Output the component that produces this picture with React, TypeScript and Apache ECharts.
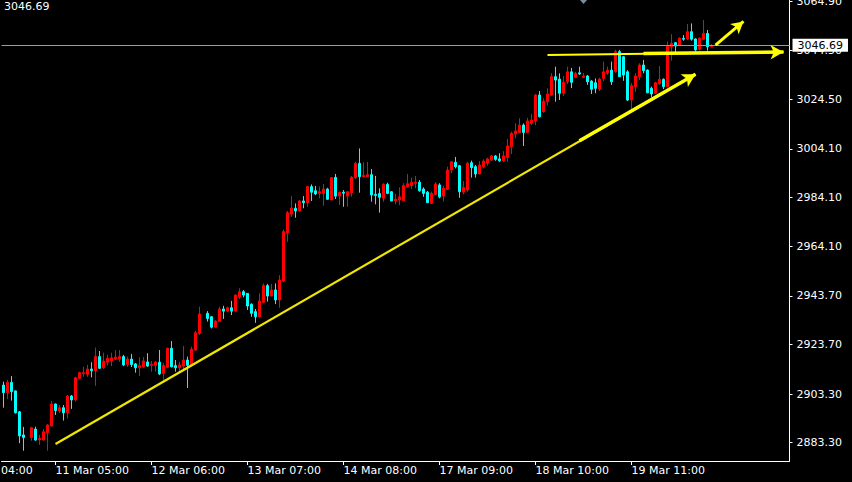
import React, { useEffect, useRef } from "react";
import * as echarts from "echarts";

const FONT = '"DejaVu Sans", Tahoma, sans-serif';

// Hourly XAUUSD candles: [open, close, low, high]; "-" marks an empty slot
const candles: (number | string)[][] = [
  [2907.0, 2903.9, 2897.7, 2908.4], [2903.9, 2908.1, 2901.2, 2909.1], [2908.1, 2904.3, 2900.6, 2910.7],
  [2904.6, 2895.6, 2895.3, 2904.8], [2896.0, 2886.1, 2883.1, 2896.3], [2886.5, 2885.4, 2880.0, 2889.8],
  ["-", "-", "-", "-"], [2885.4, 2889.5, 2884.1, 2889.8], [2888.9, 2884.4, 2884.1, 2889.9],
  [2884.5, 2885.1, 2882.4, 2886.5], [2884.4, 2887.8, 2884.1, 2888.9], [2887.4, 2890.6, 2880.0, 2890.9],
  [2890.2, 2899.2, 2889.9, 2900.5], [2899.2, 2896.5, 2894.7, 2899.4], [2896.3, 2897.7, 2895.6, 2898.8],
  [2897.7, 2895.6, 2892.4, 2898.8], [2895.6, 2902.5, 2893.3, 2902.9], [2902.5, 2900.9, 2897.2, 2902.9],
  [2900.9, 2910.0, 2900.2, 2910.4], [2909.8, 2912.1, 2909.4, 2912.5], [2911.7, 2912.1, 2910.4, 2914.5],
  [2911.4, 2913.6, 2910.4, 2915.3], [2913.6, 2912.9, 2910.2, 2916.4], [2912.8, 2918.7, 2906.7, 2922.4],
  [2918.7, 2913.9, 2913.6, 2921.0], [2914.1, 2916.9, 2913.6, 2920.3], [2916.4, 2918.0, 2915.0, 2919.4],
  [2916.9, 2918.2, 2914.8, 2920.3], [2917.7, 2918.5, 2917.3, 2921.4], [2917.7, 2918.7, 2916.5, 2921.4],
  [2918.7, 2915.3, 2914.8, 2919.4], [2915.5, 2917.7, 2914.5, 2918.7], [2917.7, 2915.5, 2914.4, 2919.8],
  [2915.7, 2914.1, 2912.1, 2916.1], [2914.1, 2915.0, 2910.7, 2918.4], [2914.5, 2916.9, 2914.1, 2918.5],
  [2916.5, 2914.8, 2914.5, 2920.1], [2915.1, 2915.5, 2912.5, 2916.9], [2915.1, 2916.4, 2912.5, 2916.9],
  [2916.4, 2911.6, 2911.1, 2921.4], [2911.8, 2915.0, 2909.1, 2916.0], [2914.3, 2922.1, 2913.9, 2922.4],
  [2922.1, 2914.5, 2914.3, 2925.1], [2915.0, 2914.1, 2912.5, 2917.3], [2914.1, 2915.3, 2912.1, 2916.6],
  [2914.8, 2917.3, 2913.2, 2923.1], [2917.3, 2915.1, 2905.8, 2918.7], [2915.3, 2921.8, 2914.5, 2922.8],
  [2921.4, 2928.5, 2921.0, 2929.3], [2928.3, 2936.2, 2927.6, 2939.2], ["-", "-", "-", "-"],
  [2936.5, 2934.4, 2933.1, 2937.4], [2935.1, 2930.8, 2930.3, 2935.4], [2930.8, 2933.3, 2930.6, 2933.7],
  [2933.1, 2938.3, 2933.0, 2939.2], [2938.3, 2937.4, 2934.2, 2939.6], [2937.4, 2938.8, 2937.2, 2939.2],
  [2938.8, 2937.4, 2935.8, 2941.6], [2937.4, 2944.0, 2937.2, 2944.3], [2943.3, 2945.4, 2942.4, 2946.8],
  [2945.4, 2944.0, 2943.1, 2946.1], [2944.7, 2939.5, 2937.9, 2944.8], [2940.2, 2936.5, 2935.1, 2940.6],
  [2937.2, 2935.1, 2932.6, 2938.3], [2935.1, 2941.6, 2934.7, 2944.7], [2941.0, 2947.9, 2940.6, 2948.8],
  [2947.9, 2943.6, 2941.3, 2948.6], [2943.6, 2946.1, 2943.5, 2948.6], [2946.1, 2942.0, 2940.3, 2948.8],
  [2942.0, 2950.2, 2938.8, 2952.2], [2949.8, 2970.1, 2949.4, 2971.0], [2969.6, 2977.9, 2965.9, 2978.6],
  [2977.3, 2979.7, 2976.2, 2984.7], [2979.7, 2978.6, 2975.8, 2981.7], [2978.6, 2982.7, 2978.3, 2983.1],
  [2982.7, 2982.0, 2979.7, 2984.7], [2982.0, 2988.6, 2980.3, 2988.9], [2988.6, 2986.3, 2982.7, 2989.5],
  [2986.9, 2985.6, 2985.1, 2988.9], [2985.8, 2986.5, 2983.8, 2988.6], [2985.8, 2987.6, 2980.7, 2989.7],
  [2987.6, 2983.4, 2983.1, 2988.1], [2983.1, 2992.3, 2983.0, 2992.5], [2992.4, 2984.7, 2983.5, 2993.8],
  [2984.7, 2986.3, 2981.0, 2986.5], [2986.3, 2985.9, 2980.3, 2987.2], [2984.7, 2986.5, 2980.3, 2986.6],
  [2986.1, 2992.5, 2984.4, 2993.0], [2992.3, 2998.2, 2991.7, 2998.8], [2998.2, 2992.7, 2986.1, 3004.3],
  [2992.7, 2993.2, 2992.6, 2998.6], [2992.7, 2993.5, 2992.6, 2998.8], [2993.5, 2985.2, 2982.4, 2995.8],
  [2985.4, 2984.9, 2981.3, 2993.0], [2985.8, 2984.2, 2977.9, 2987.9], [2983.8, 2989.5, 2982.4, 2990.0],
  [2989.5, 2985.8, 2985.5, 2990.2], [2986.5, 2982.7, 2982.6, 2986.8], [2982.7, 2983.5, 2981.3, 2985.6],
  [2983.1, 2984.4, 2981.0, 2988.3], [2982.8, 2989.0, 2982.7, 2990.0], [2988.6, 2989.8, 2988.1, 2993.8],
  [2989.0, 2990.4, 2987.6, 2992.3], [2990.0, 2990.4, 2987.9, 2993.0], [2990.4, 2986.9, 2986.5, 2991.3],
  [2987.6, 2985.8, 2984.4, 2988.3], [2986.3, 2982.0, 2981.9, 2986.8], [2981.7, 2985.8, 2981.4, 2986.5],
  [2985.4, 2989.7, 2985.2, 2990.4], [2989.3, 2984.4, 2983.8, 2990.0], [2984.7, 2987.9, 2982.4, 2989.0],
  [2987.5, 2995.4, 2987.2, 2996.8], [2995.4, 2998.8, 2994.1, 2999.1], [2998.6, 2996.8, 2996.1, 3000.8],
  [2997.2, 2986.5, 2984.0, 2997.5], [2986.3, 2988.2, 2985.4, 2990.9], [2987.2, 2998.2, 2986.5, 2998.8],
  [2998.4, 2996.4, 2992.3, 2999.3], [2996.8, 2993.8, 2992.3, 2997.5], [2993.8, 2997.5, 2993.7, 2999.1],
  [2996.8, 2999.1, 2996.1, 2999.8], [2998.2, 3000.0, 2997.2, 3000.5], [2999.5, 3001.2, 2999.2, 3001.6],
  [3001.2, 2999.8, 2999.2, 3001.6], [3000.0, 2999.2, 2998.8, 3002.3], [2999.2, 3001.2, 2998.8, 3003.2],
  [3000.6, 3005.3, 2998.8, 3008.2], [3005.0, 3010.5, 3002.0, 3011.2], [3010.2, 3011.5, 3008.5, 3014.6],
  [3010.9, 3013.9, 3010.5, 3016.7], [3013.9, 3010.9, 3005.3, 3014.6], [3010.9, 3015.6, 3010.8, 3016.9],
  [3014.6, 3016.0, 3013.9, 3018.5], [3015.6, 3026.3, 3013.9, 3026.7], [3026.3, 3017.3, 3017.1, 3027.9],
  [3019.4, 3023.8, 3019.0, 3024.9], [3023.5, 3026.7, 3021.9, 3029.0], [3026.3, 3033.8, 3025.9, 3035.2],
  [3033.8, 3032.4, 3023.5, 3037.9], [3032.8, 3027.0, 3024.2, 3035.2], [3027.0, 3031.5, 3025.8, 3034.1],
  [3031.7, 3035.8, 3030.8, 3037.9], [3035.8, 3031.5, 3029.1, 3037.4], [3033.5, 3035.2, 3033.1, 3035.8],
  [3035.4, 3034.9, 3034.5, 3037.9], [3033.5, 3034.1, 3033.3, 3035.3], [3034.1, 3031.7, 3030.4, 3034.5],
  [3032.0, 3028.6, 3026.7, 3032.4], [3031.3, 3029.0, 3027.0, 3033.1], [3028.7, 3032.8, 3027.9, 3033.4],
  [3033.1, 3035.8, 3032.0, 3040.0], [3035.4, 3036.5, 3034.5, 3037.9], [3036.5, 3031.7, 3030.4, 3040.0],
  [3035.8, 3044.1, 3035.4, 3044.8], [3044.1, 3033.8, 3033.7, 3044.8], [3042.0, 3034.5, 3032.1, 3042.3],
  [3035.8, 3024.2, 3023.8, 3036.5], [3024.2, 3030.1, 3020.1, 3031.1], [3029.7, 3034.1, 3027.6, 3035.2],
  [3033.8, 3038.6, 3032.4, 3039.3], [3038.6, 3036.3, 3035.2, 3040.7], [3036.5, 3027.2, 3027.0, 3036.8],
  [3029.0, 3026.7, 3025.3, 3029.7], [3027.0, 3031.3, 3026.7, 3031.7], [3030.9, 3032.7, 3030.4, 3038.2],
  [3032.7, 3029.7, 3028.7, 3033.1], [3029.7, 3046.4, 3029.6, 3048.2], [3046.1, 3047.5, 3040.4, 3051.3],
  [3047.8, 3046.4, 3043.7, 3047.9], [3046.8, 3049.6, 3046.4, 3050.0], [3049.6, 3049.2, 3048.6, 3050.9],
  [3049.3, 3052.3, 3048.9, 3055.5], [3052.3, 3049.2, 3048.6, 3055.7], [3049.3, 3044.8, 3044.1, 3049.6],
  [3045.1, 3049.6, 3044.5, 3050.0], [3049.2, 3051.6, 3048.9, 3057.1], [3051.6, 3046.1, 3044.5, 3053.0],
  [3046.1, 3046.69, 3045.9, 3047.2],
];

// time axis labels and the bar slot each one sits on
const dateLabels = ["11 Mar 05:00", "12 Mar 06:00", "13 Mar 07:00", "14 Mar 08:00", "17 Mar 09:00", "18 Mar 10:00", "19 Mar 11:00"];
const dateLabelBars = [13, 37, 61, 85, 109, 133, 157];
const totalSlots = 197; // includes empty right margin

// price scale
const priceTicks = [2883.3, 2903.3, 2923.7, 2943.7, 2964.1, 2984.1, 3004.1, 3024.5, 3044.5, 3064.9];
const priceMin = 2875.78;
const priceMax = 3065.33;
const lastPrice = 3046.69;

// drawn annotations: [bar slot, price]
const trendLine = [[13, 2882.8], [173, 3034.8]];
const trendLineHead = [[144, 3007.5], [173, 3034.8]];
const levelLine = [[136, 3042.7], [195, 3043.9]];
const levelLineHead = [[160, 3043.3], [195, 3043.9]];
const breakoutArrow = [[178, 3046.8], [185, 3056.5]];

const categories: string[] = Array.from({ length: totalSlots }, () => "");
dateLabelBars.forEach((b, i) => { categories[b] = dateLabels[i]; });

const YELLOW = "#ffff00";

export default function App() {
  const ref = useRef<HTMLDivElement>(null);
  useEffect(() => {
    if (!ref.current) return;
    const chart = echarts.init(ref.current, undefined, { renderer: "svg" });
    const seg = (pts: number[][], color: string, width: number, head: boolean, size?: number[]) => [
      { coord: pts[0], symbol: "none", lineStyle: { color, width, type: "solid", opacity: 1 } },
      { coord: pts[1], symbol: head ? "arrow" : "none", symbolSize: size || [10, 12], itemStyle: { color } },
    ];
    const option: any = {
      animation: false,
      backgroundColor: "#000000",
      grid: { left: 1.5, top: 0, width: 788, height: 461, containLabel: false, outerBoundsMode: "none" },
      xAxis: {
        type: "category",
        data: categories,
        boundaryGap: true,
        axisLine: { show: true, lineStyle: { color: "#ffffff", width: 1 } },
        axisTick: {
          show: true,
          alignWithLabel: true,
          length: 4,
          interval: (_i: number, v: string) => v !== "",
          lineStyle: { color: "#ffffff" },
        },
        axisLabel: {
          interval: (_i: number, v: string) => v !== "",
          color: "#ffffff",
          fontFamily: FONT,
          fontSize: 11,
          align: "left",
          margin: 4,
        },
        splitLine: { show: false },
      },
      yAxis: {
        type: "value",
        position: "right",
        min: priceMin,
        max: priceMax,
        axisLine: { show: true, lineStyle: { color: "#ffffff", width: 1 } },
        axisTick: { show: true, length: 3, customValues: priceTicks, lineStyle: { color: "#ffffff" } },
        axisLabel: {
          customValues: priceTicks,
          formatter: (v: number) => v.toFixed(2),
          color: "#ffffff",
          fontFamily: FONT,
          fontSize: 11,
          margin: 7,
        },
        splitLine: { show: false },
      },
      series: [
        {
          type: "candlestick",
          data: candles,
          barWidth: 2,
          itemStyle: {
            color: "#ff0000",
            color0: "#00ffff",
            borderColor: "#ff0000",
            borderColor0: "#00ffff",
            borderWidth: 1,
          },
          emphasis: { disabled: true },
          markLine: {
            silent: true,
            animation: false,
            symbol: ["none", "none"],
            label: { show: false },
            emphasis: { disabled: true },
            data: [
              {
                yAxis: lastPrice,
                symbol: "none",
                lineStyle: { color: "#9a9a9a", width: 1, type: "solid" },
                label: {
                  show: true,
                  position: "end",
                  distance: 3,
                  formatter: lastPrice.toFixed(2),
                  backgroundColor: "#ffffff",
                  color: "#000000",
                  fontFamily: FONT,
                  fontSize: 11,
                  padding: [1, 5, 1, 5],
                },
              },
              seg(trendLine, "#f0e600", 2.2, false),
              seg(trendLineHead, YELLOW, 3.5, true, [11, 13]),
              seg(levelLine, YELLOW, 2, false),
              seg(levelLineHead, YELLOW, 3.5, true, [11, 13]),
              seg(breakoutArrow, YELLOW, 3, true, [10, 12]),
            ],
          },
        },
      ],
      graphic: [
        {
          type: "text",
          left: 4,
          top: 1,
          style: { text: lastPrice.toFixed(2), fill: "#ffffff", fontFamily: FONT, fontSize: 11 },
        },
        {
          type: "text",
          left: 1,
          top: 465,
          style: { text: "04:00", fill: "#ffffff", fontFamily: FONT, fontSize: 11 },
        },
        {
          type: "polygon",
          shape: { points: [[580, 0], [587, 0], [583.5, 4]] },
          style: { fill: "#7c8c9c" },
        },
      ],
    };
    chart.setOption(option);
    return () => chart.dispose();
  }, []);
  return (
    <div
      ref={ref}
      style={{ position: "fixed", left: 0, top: 0, width: 852, height: 482, background: "#000" }}
    />
  );
}
